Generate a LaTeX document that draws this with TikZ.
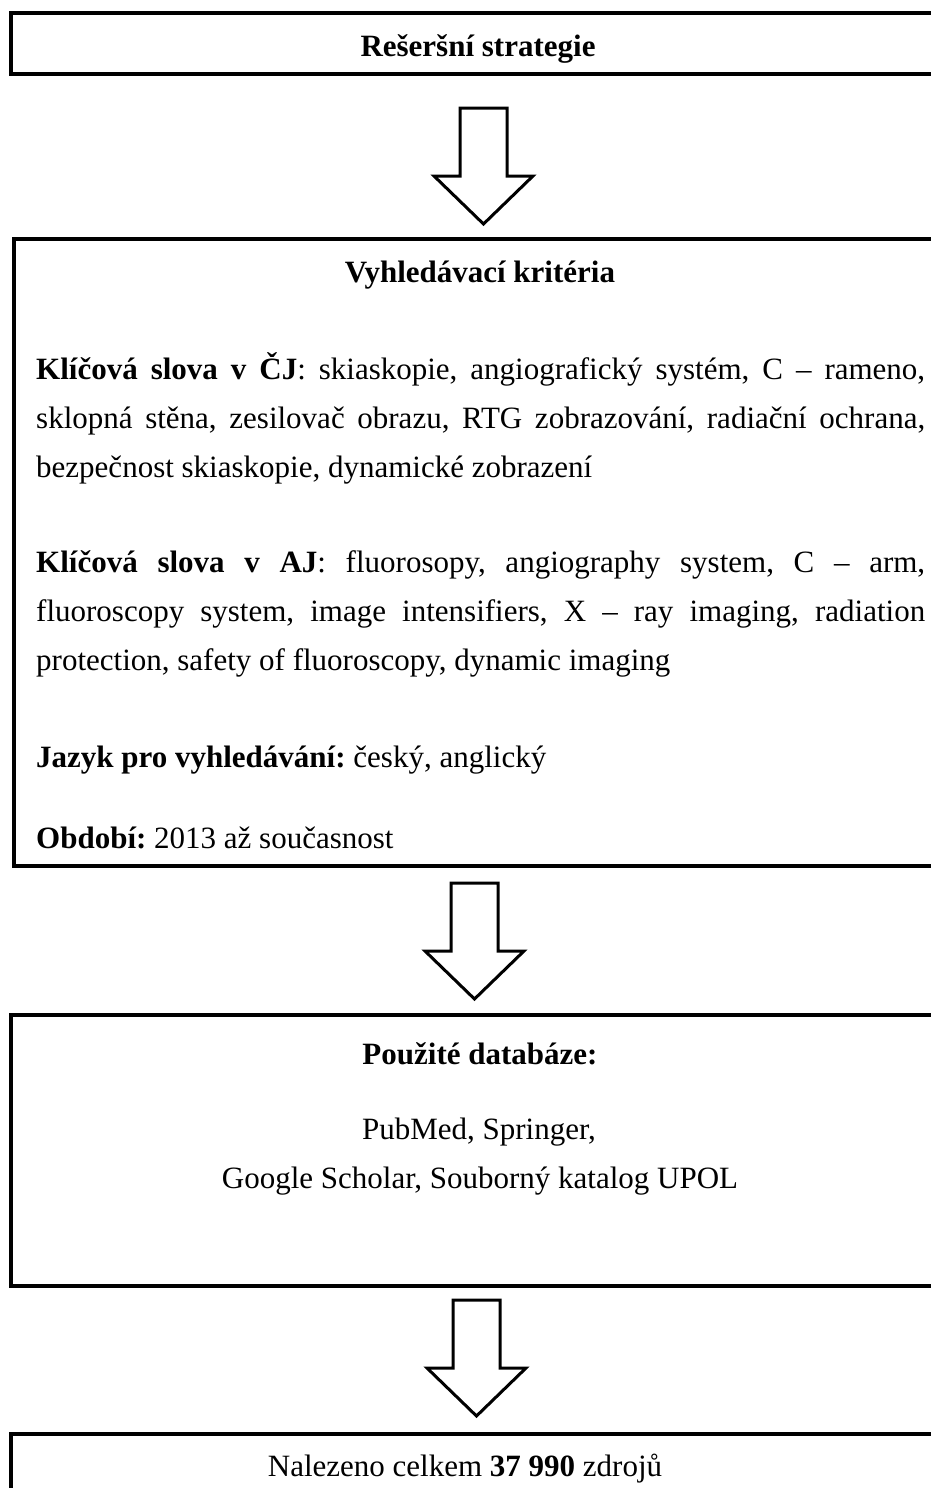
\documentclass[tikz,border=0pt]{standalone}
\usepackage{fontspec}
\setmainfont{Liberation Serif}
\usetikzlibrary{calc}

\newcommand{\bodyfont}{\fontsize{31}{49}\selectfont\frenchspacing}

\begin{document}
\begin{tikzpicture}[
  x=1pt, y=-1pt,
  font=\bodyfont,
  panel/.style={draw=black, line width=4pt, fill=white, minimum width=934pt,
                inner sep=0pt, outer sep=0pt},
  entry/.style={anchor=base west, text width=889pt, align=justify, inner sep=0pt},
  heading/.style={font=\bodyfont\bfseries, anchor=base, inner sep=0pt},
  plain/.style={anchor=base, inner sep=0pt},
  downarrow/.pic={
    \draw[line width=3pt, line join=miter, fill=white]
      (-23.5,0) -- (23.5,0) -- (23.5,68) -- (49.5,68) -- (0,116)
      -- (-49.5,68) -- (-23.5,68) -- cycle;
  }
]
\clip (0,0) rectangle (931,1488);

% boxes
\node[panel, minimum height=61pt]  (strategy)  at (478,43.5)  {};
\node[panel, minimum height=627pt] (criteria)  at (481,552.5) {};
\node[panel, minimum height=271pt] (databases) at (478,1150.5) {};
\node[panel, minimum height=61pt]  (results)   at (478,1464.5) {};

% block arrows between the boxes
\pic at ($(strategy.south)+(5.5,34)$) {downarrow};
\pic at ($(criteria.south)+(-6.5,17)$) {downarrow};
\pic at ($(databases.south)+(-1.5,14)$) {downarrow};

% texts
\node[heading] (strategytitle) at (478,57) {Rešeršní strategie};

\node[heading] (criteriatitle) at (480,282) {Vyhledávací kritéria};
\node[entry] (keycz) at (36,379)
  {\textbf{Klíčová slova v ČJ}: skiaskopie, angiografický systém, C – rameno,\linebreak
   sklopná stěna, zesilovač obrazu, RTG zobrazování, radiační ochrana,\linebreak
   bezpečnost skiaskopie, dynamické zobrazení};
\node[entry] (keyen) at (36,572)
  {\textbf{Klíčová slova v AJ}: fluorosopy, angiography system, C – arm,\linebreak
   fluoroscopy system, image intensifiers, X – ray imaging, radiation\linebreak
   protection, safety of fluoroscopy, dynamic imaging};
\node[entry] (language) at (36,767) {\textbf{Jazyk pro vyhledávání:} český, anglický};
\node[entry] (period) at (36,848) {\textbf{Období:} 2013 až současnost};

\node[heading] (dbtitle) at (480,1064) {Použité databáze:};
\node[plain] (dbline1) at (479,1139) {PubMed, Springer,};
\node[plain] (dbline2) at (480,1188) {Google Scholar, Souborný katalog UPOL};

\node[plain] (total) at (465,1476) {Nalezeno celkem \textbf{37 990} zdrojů};

\end{tikzpicture}
\end{document}
